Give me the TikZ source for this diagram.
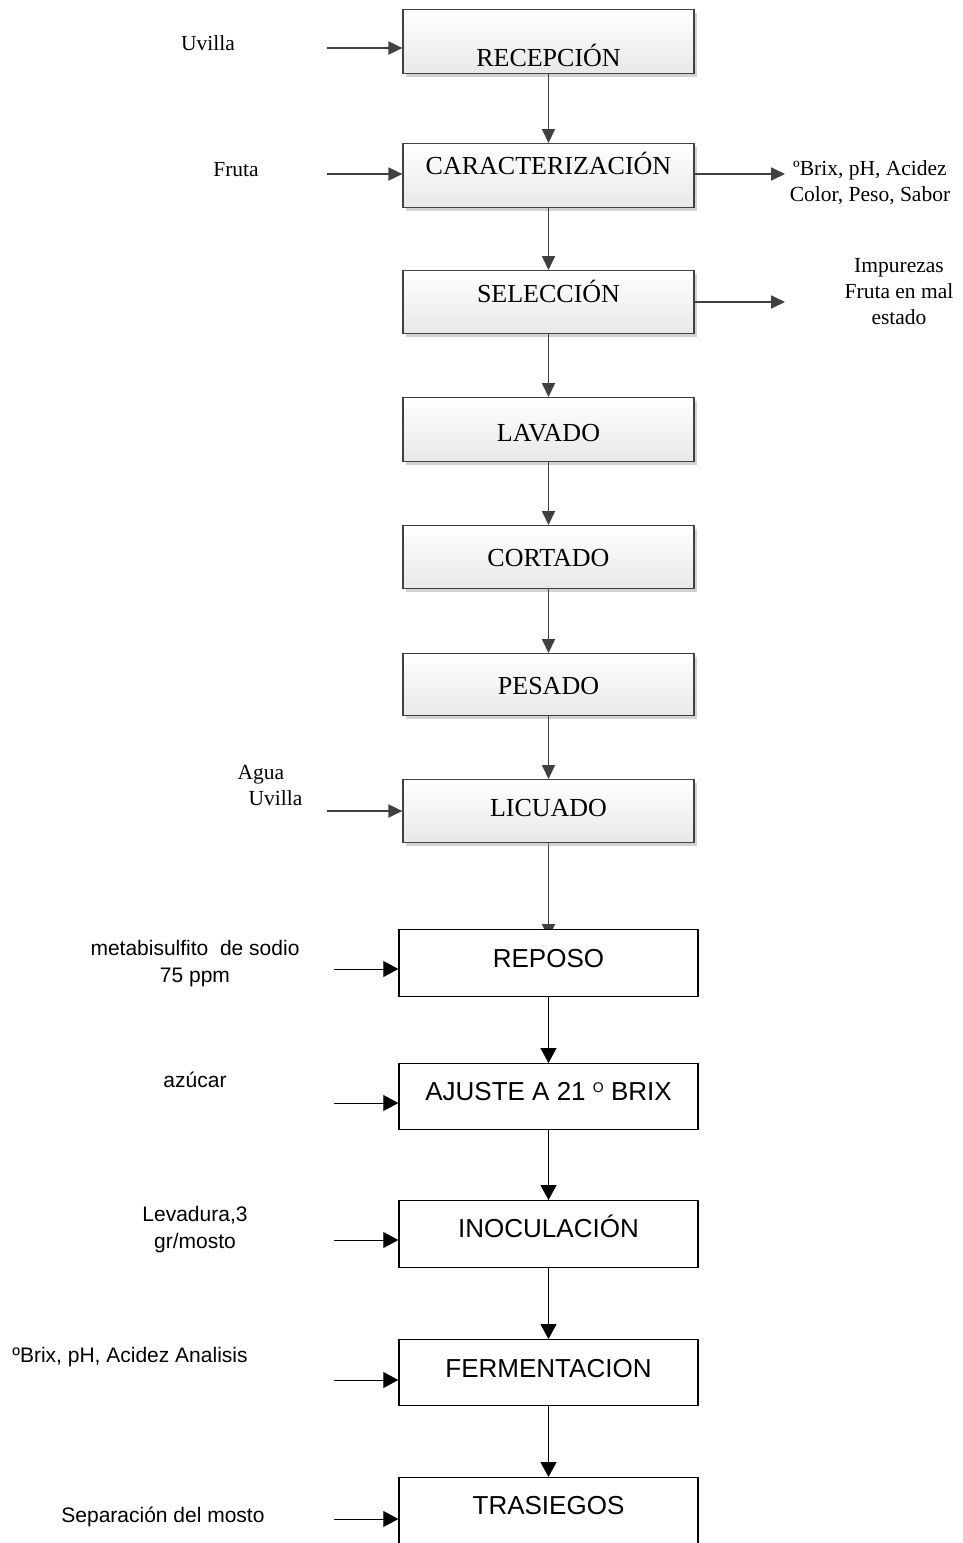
\documentclass[tikz,border=0pt]{standalone}
\usepackage{fontspec}
\setmainfont{Liberation Serif}
\newfontfamily\arialfont{Liberation Sans}
\usetikzlibrary{arrows.meta,shadows,backgrounds}
\definecolor{linegray}{HTML}{404040}

\begin{document}
\begin{tikzpicture}[x=1pt,y=1pt,
  paso/.style={draw=linegray, line width=1.2pt, top color=white, bottom color=black!9,
    drop shadow={shadow xshift=3pt, shadow yshift=-3pt, fill=black!35},
    minimum width=291pt, inner ysep=0pt, anchor=north, font=\fontsize{26}{30}\selectfont},
  etapa/.style={draw=black, line width=1.4pt, fill=white, minimum width=299pt,
    inner ysep=0pt, anchor=north, font=\arialfont\fontsize{26}{30}\selectfont},
  tnota/.style={align=center, font=\fontsize{21.5}{26}\selectfont},
  anota/.style={align=center, font=\arialfont\fontsize{21}{26.5}\selectfont},
  flecha/.style={draw=linegray, line width=1.8pt, -{Triangle[length=14pt,width=13pt]}},
  flechab/.style={draw=black, line width=1.2pt, -{Triangle[length=15pt,width=16pt]}}]
\useasboundingbox (0,0) rectangle (962,-1543);

% etapas del proceso
\node[paso, text height=56.6pt, text depth=7.4pt] (recepcion) at (548.5,-9) {RECEPCIÓN};
\node[paso, text height=30.6pt, text depth=33.4pt] (caract) at (548.5,-143) {CARACTERIZACIÓN};
\node[paso, text height=31.6pt, text depth=31.4pt] (seleccion) at (548.5,-270) {SELECCIÓN};
\node[paso, text height=43.6pt, text depth=20.4pt] (lavado) at (548.5,-397) {LAVADO};
\node[paso, text height=40.6pt, text depth=22.4pt] (cortado) at (548.5,-525) {CORTADO};
\node[paso, text height=40.6pt, text depth=21.4pt] (pesado) at (548.5,-653) {PESADO};
\node[paso, text height=36.6pt, text depth=26.4pt] (licuado) at (548.5,-779) {LICUADO};

\node[etapa, text height=37.3pt, text depth=29.7pt] (reposo) at (548.5,-929) {REPOSO};
\node[etapa, text height=36.3pt, text depth=29.7pt] (ajuste) at (548.5,-1063)
  {AJUSTE A 21 \raisebox{8pt}{\fontsize{14}{14}\selectfont O} BRIX};
\node[etapa, text height=36.3pt, text depth=30.7pt] (inoculacion) at (548.5,-1200) {INOCULACIÓN};
\node[etapa, text height=37.3pt, text depth=28.7pt] (fermentacion) at (548.5,-1339) {FERMENTACION};
\node[etapa, text height=36.3pt, text depth=31.7pt] (trasiegos) at (548.5,-1477) {TRASIEGOS};

% flujo principal
\draw[flecha] (recepcion) -- (caract);
\draw[flecha] (caract) -- (seleccion);
\draw[flecha] (seleccion) -- (lavado);
\draw[flecha] (lavado) -- (cortado);
\draw[flecha] (cortado) -- (pesado);
\draw[flecha] (pesado) -- (licuado);
\begin{pgfonlayer}{background}
\draw[flecha, shorten >=-9pt] (licuado) -- (reposo);
\end{pgfonlayer}
\draw[flechab] (reposo) -- (ajuste);
\draw[flechab] (ajuste) -- (inoculacion);
\draw[flechab] (inoculacion) -- (fermentacion);
\draw[flechab] (fermentacion) -- (trasiegos);

% entradas
\node[tnota] (uvilla) at (208,-43) {Uvilla};
\node[tnota] (fruta) at (236,-170) {Fruta};
\node[tnota, align=left] (agua) at (270,-785) {Agua\\\hspace*{11pt}Uvilla};
\coordinate (e1) at (327,-48);
\coordinate (e2) at (327,-174);
\coordinate (e3) at (327,-811);
\draw[flecha] (e1) -- (e1 -| recepcion.west);
\draw[flecha] (e2) -- (e2 -| caract.west);
\draw[flecha] (e3) -- (e3 -| licuado.west);

\node[anota] (metabisulfito) at (195,-963.5) {metabisulfito\ \ de sodio\\75 ppm};
\node[anota] (azucar) at (195,-1080) {azúcar};
\node[anota] (levadura) at (195,-1229.5) {Levadura,3\\gr/mosto};
\node[anota] (analisis) at (130,-1357) {ºBrix, pH, Acidez Analisis};
\node[anota] (separacion) at (163,-1517) {Separación del mosto};
\coordinate (e4) at (334,-969);
\coordinate (e5) at (334,-1103);
\coordinate (e6) at (334,-1240);
\coordinate (e7) at (334,-1380);
\coordinate (e8) at (334,-1519);
\draw[flechab, line width=1pt] (e4) -- (e4 -| reposo.west);
\draw[flechab, line width=1pt] (e5) -- (e5 -| ajuste.west);
\draw[flechab, line width=1pt] (e6) -- (e6 -| inoculacion.west);
\draw[flechab, line width=1pt] (e7) -- (e7 -| fermentacion.west);
\draw[flechab, line width=1pt] (e8) -- (e8 -| trasiegos.west);

% salidas
\node[tnota] (parametros) at (870,-183) {ºBrix, pH, Acidez\\Color, Peso, Sabor};
\node[tnota] (impurezas) at (899,-292) {Impurezas\\Fruta en mal\\estado};
\coordinate (s1) at (785,-174);
\coordinate (s2) at (785,-302);
\draw[flecha] (s1 -| caract.east) -- (s1);
\draw[flecha] (s2 -| seleccion.east) -- (s2);
\end{tikzpicture}
\end{document}
